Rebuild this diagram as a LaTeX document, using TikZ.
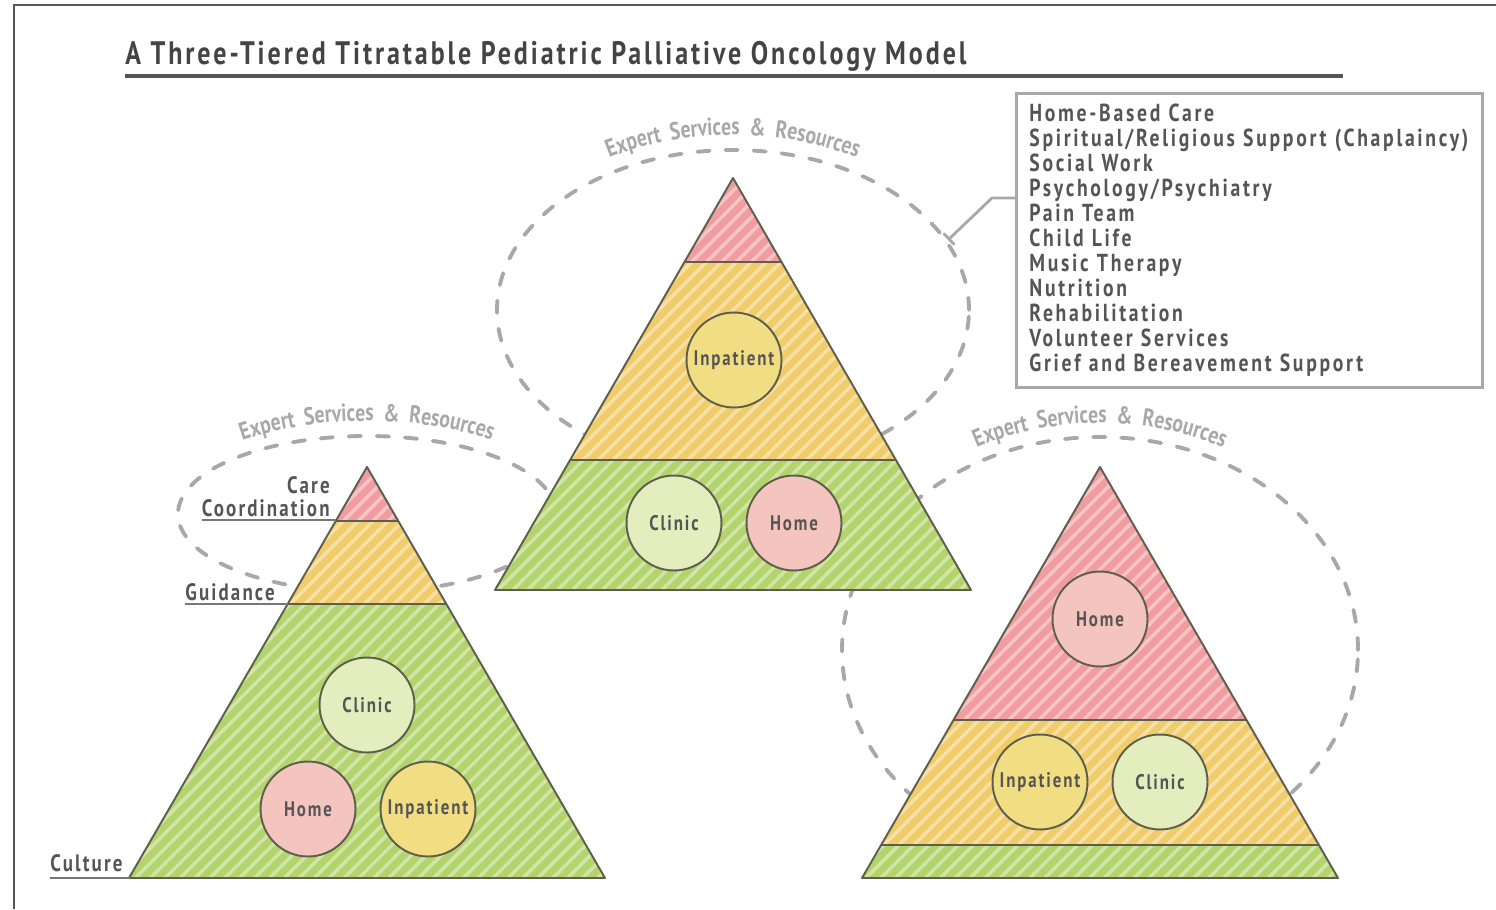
\documentclass[tikz,border=0pt]{standalone}
\usepackage{fontspec}
\newfontfamily\dinfont{PT Sans}[FakeStretch=0.8,LetterSpace=9]
\usetikzlibrary{patterns.meta,decorations.text,arrows.meta,positioning}

\definecolor{tierpink}{HTML}{F09CA0}
\definecolor{tieryellow}{HTML}{F0CC6A}
\definecolor{tiergreen}{HTML}{B3D36C}
\definecolor{dotpink}{HTML}{F4C4BE}
\definecolor{dotyellow}{HTML}{F2DE82}
\definecolor{dotgreen}{HTML}{E4EDBD}
\definecolor{edgegray}{HTML}{5E5E4C}
\definecolor{inkgray}{HTML}{555555}
\definecolor{dashgray}{HTML}{A8A8A8}

\begin{document}
\begin{tikzpicture}[x=0.02cm,y=0.02cm,
    tier/.style={preaction={fill=#1},
      pattern={Lines[angle=45,distance=6pt,line width=2pt]},
      pattern color=#1!60!white},
    edge/.style={draw=edgegray,line width=1.1pt,line join=round},
    hub/.style={circle,draw=edgegray,line width=1.1pt,fill=#1,
      minimum size=1.9cm,inner sep=0pt,text=inkgray,
      font=\dinfont\bfseries\fontsize{12}{12}\selectfont},
    rim/.style={draw=dashgray,line width=2.2pt,dash pattern=on 7pt off 9pt,line cap=round},
    tag/.style={text=inkgray,inner sep=0pt,
      font=\dinfont\bfseries\fontsize{13.5}{13.5}\selectfont},
    rule/.style={draw=inkgray!80,line width=1.1pt},
    arctext/.style={decorate,decoration={text along path,text align=center,
      text={|\dinfont\bfseries\fontsize{14}{14}\selectfont\addfontfeature{LetterSpace=18}\color{dashgray}|Expert Services {\&} Resources}}}
  ]
  \useasboundingbox (0,0) rectangle (1496,-909);

  % frame and title
  \draw[line width=1.7pt,inkgray] (14,-909) -- (14,-5) -- (1496,-5);
  \node[anchor=base west,inner sep=0pt,text=inkgray!80!black,
    font=\dinfont\bfseries\fontsize{18.5}{18.5}\selectfont] (title) at (125,-65)
    {A Three-Tiered Titratable Pediatric Palliative Oncology Model};
  \draw[line width=2.2pt,inkgray] (125,-76) -- (1343,-76);

  % dashed rings of expert services
  \draw[rim] (367,-514) ellipse [x radius=189, y radius=78];
  \draw[rim] (733,-310) ellipse [x radius=236, y radius=160];
  \draw[rim] (1100,-650) ellipse [x radius=258, y radius=213];
  \path[arctext] (367,-514) ++(150:204 and 93) arc[start angle=150,end angle=30,x radius=204,y radius=93];
  \path[arctext] (733,-310) ++(150:251 and 175) arc[start angle=150,end angle=30,x radius=251,y radius=175];
  \path[arctext] (1100,-650) ++(150:272 and 227) arc[start angle=150,end angle=30,x radius=272,y radius=227];

  % pyramids: apex x / apex y / base y / first split / second split
  \foreach \cx/\ty/\by/\sa/\sb in {367/467/878/521/604, 733/178/590/262/460, 1100/467/878/720/845} {
    \begin{scope}
      \clip ({\cx-238},-\by) -- (\cx,-\ty) -- ({\cx+238},-\by) -- cycle;
      \path[tier=tierpink] ({\cx-240},-\ty) rectangle ({\cx+240},-\sa);
      \path[tier=tieryellow] ({\cx-240},-\sa) rectangle ({\cx+240},-\sb);
      \path[tier=tiergreen] ({\cx-240},-\sb) rectangle ({\cx+240},-\by);
      \draw[edge] ({\cx-240},-\sa) -- ++(480,0) ({\cx-240},-\sb) -- ++(480,0);
    \end{scope}
    \draw[edge] ({\cx-238},-\by) -- (\cx,-\ty) -- ({\cx+238},-\by) -- cycle;
  }

  % care settings
  \node[hub=dotgreen] (lclinic) at (367,-705) {Clinic};
  \node[hub=dotpink] (lhome) at (308,-809) {Home};
  \node[hub=dotyellow] (linpat) at (428,-809) {Inpatient};
  \node[hub=dotyellow] (minpat) at (734,-360) {Inpatient};
  \node[hub=dotgreen] (mclinic) at (674,-523) {Clinic};
  \node[hub=dotpink] (mhome) at (794,-523) {Home};
  \node[hub=dotpink] (rhome) at (1100,-619) {Home};
  \node[hub=dotyellow] (rinpat) at (1040,-782) {Inpatient};
  \node[hub=dotgreen] (rclinic) at (1160,-782) {Clinic};

  % tier labels
  \node[tag,anchor=base east] (lcare) at (330,-493) {Care};
  \node[tag,anchor=base east] (lcoord) at (330,-516) {Coordination};
  \node[tag,anchor=base west] (lguide) at (185,-600) {Guidance};
  \node[tag,anchor=base west] (lcult) at (50,-871) {Culture};
  \draw[rule] (lcoord.west |- 0,-520) -- (336,-520);
  \draw[rule] (lguide.west |- 0,-604) -- (288,-604);
  \draw[rule] (lcult.west |- 0,-878) -- (130,-878);

  % list of services
  \node[draw=dashgray,line width=1.6pt,anchor=north west,minimum height=5.88cm,
    text width=8.8cm,inner xsep=0.26cm,align=left,text=inkgray,
    font=\dinfont\bfseries\fontsize{14}{14.2}\selectfont\addfontfeature{LetterSpace=11}] (svcbox) at (1015,-92)
    {Home-Based Care\\
     Spiritual/Religious Support (Chaplaincy)\\
     Social Work\\
     Psychology/Psychiatry\\
     Pain Team\\
     Child Life\\
     Music Therapy\\
     Nutrition\\
     Rehabilitation\\
     Volunteer Services\\
     Grief and Bereavement Support};
  \coordinate (kink) at (992,-198);
  \coordinate (tickend) at (948,-240);
  \draw[draw=dashgray,line width=1.6pt,-{Bar[width=9pt]}] (svcbox.west |- kink) -- (kink) -- (tickend);
\end{tikzpicture}
\end{document}
